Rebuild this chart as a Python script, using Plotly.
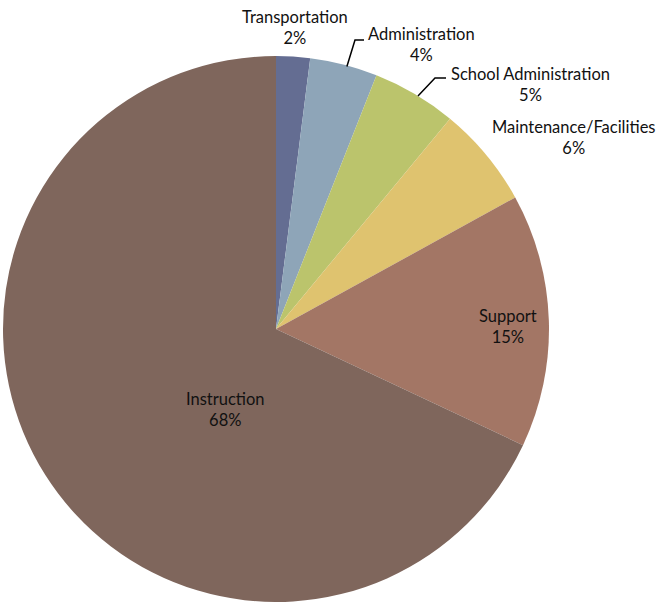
import math
import plotly.graph_objects as go

# Spending shares by category (percent), clockwise from 12 o'clock
categories = ["Transportation", "Administration", "School Administration",
              "Maintenance/Facilities", "Support", "Instruction"]
shares = [2, 4, 5, 6, 15, 68]
colors = ["#646D92", "#8EA5B8", "#BBC46C", "#DFC36F", "#A37665", "#7F665C"]

W, H = 661, 602
CX, CY, R = 276, 329, 273  # pie centre and radius in pixels


def px(x):
    return min(1, max(0, x / W))


def py(y):
    return min(1, max(0, 1 - y / H))


fig = go.Figure(go.Pie(
    labels=categories,
    values=shares,
    marker=dict(colors=colors, line=dict(width=0)),
    sort=False,
    direction="clockwise",
    rotation=0,
    textinfo="none",
    hoverinfo="label+percent",
    showlegend=False,
    domain=dict(x=[px(CX - R), px(CX + R)], y=[py(CY + R), py(CY - R)]),
))

# label centre positions (pixels) for each category
label_pos = {
    "Transportation": (295, 27),
    "Administration": (421, 44),
    "School Administration": (530, 84),
    "Maintenance/Facilities": (574, 137),
    "Support": (508, 327),
    "Instruction": (225, 409),
}

font = dict(family="Lato, 'Gill Sans', sans-serif", size=16.5, color="#111111")
total = sum(shares)
for cat, v in zip(categories, shares):
    x, y = label_pos[cat]
    pct = round(100 * v / total)
    fig.add_annotation(
        x=px(x), y=py(y), xref="paper", yref="paper",
        text=f"{cat}<br>{pct}%", showarrow=False,
        font=font, align="center", xanchor="center", yanchor="middle",
    )

# leader lines from slice edge to label (elbow shape)
leaders = {
    "Administration": (355, 40, 364),
    "School Administration": (435, 78, 446),
}
cum = 0
for cat, v in zip(categories, shares):
    mid = (cum + v / 2) / total * 2 * math.pi
    cum += v
    if cat in leaders:
        ex, ey = CX + R * math.sin(mid) + 3, CY - R * math.cos(mid) + 2
        kx, ky, hx = leaders[cat]
        fig.add_shape(
            type="path", xref="paper", yref="paper",
            path=f"M {px(ex)} {py(ey)} L {px(kx)} {py(ky)} L {px(hx)} {py(ky)}",
            line=dict(color="#000000", width=1.5),
        )

fig.update_layout(
    width=W, height=H,
    margin=dict(l=0, r=0, t=0, b=0),
    paper_bgcolor="white", plot_bgcolor="white",
)

fig.write_html("out.html")
